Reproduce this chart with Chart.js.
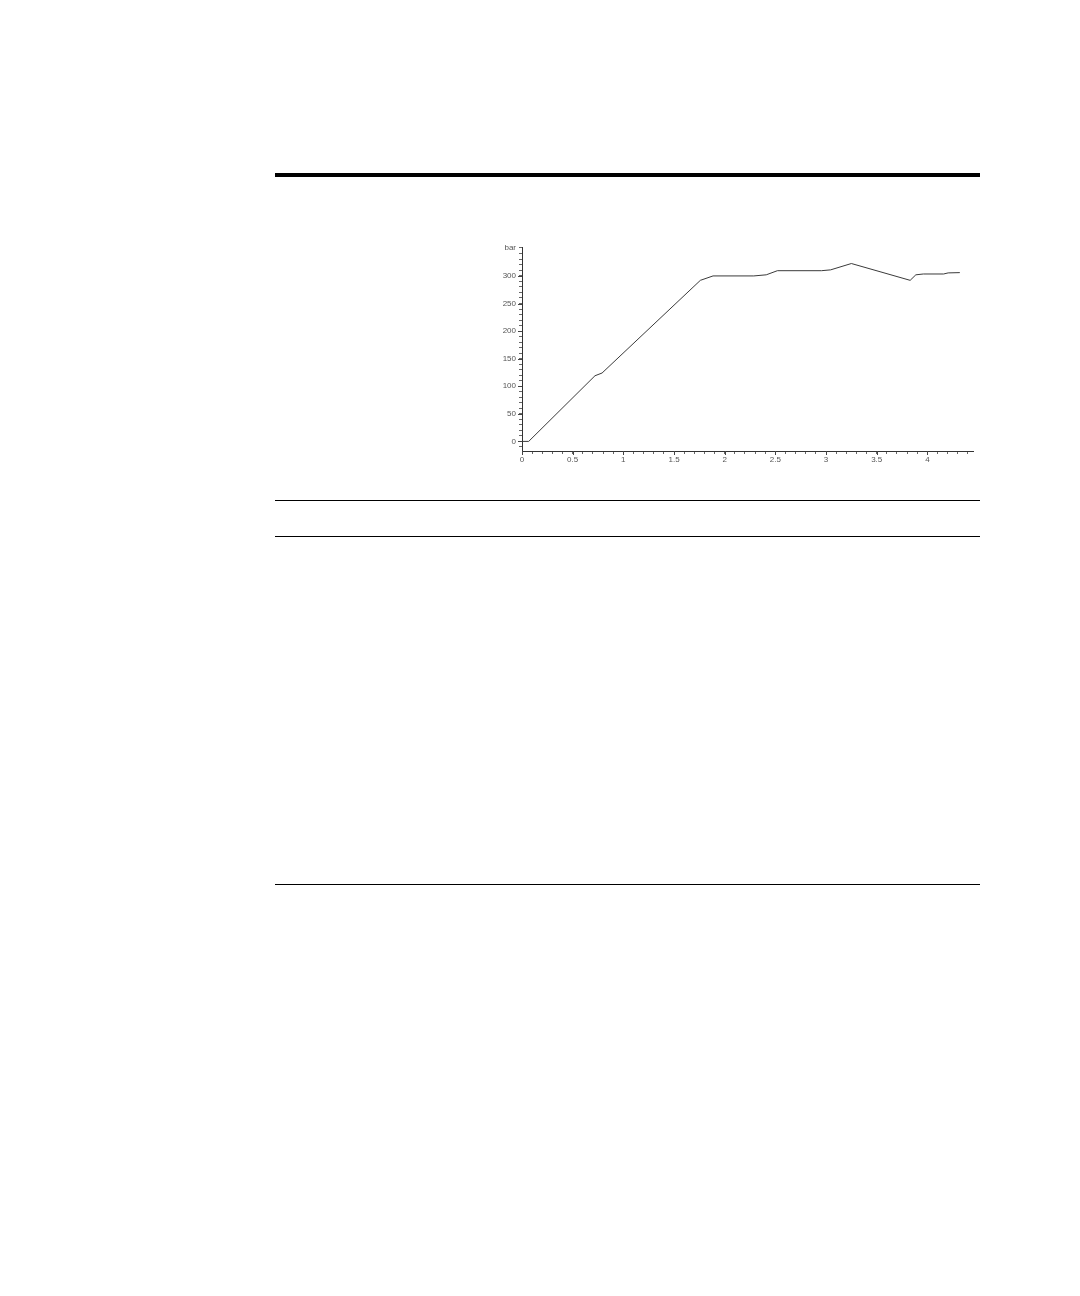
<!DOCTYPE html>
<html>
<head>
<meta charset="utf-8">
<script src="https://cdn.jsdelivr.net/npm/chart.js@4/dist/chart.umd.min.js"></script>
<style>
  html,body{margin:0;padding:0;background:#fff;}
  body{width:1080px;height:1296px;position:relative;overflow:hidden;}
  .rule{position:absolute;left:275px;width:705px;background:#000;}
  #box{position:absolute;left:470px;top:240px;width:510px;height:236px;}
</style>
</head>
<body>
<div class="rule" style="top:173px;height:4px;"></div>
<div class="rule" style="top:500px;height:1px;"></div>
<div class="rule" style="top:536px;height:1px;"></div>
<div class="rule" style="top:884px;height:1px;"></div>
<div id="box"><canvas id="c"></canvas></div>
<script>
// ====== veri ======
const timeX    = [0, 0.066, 0.72, 0.79, 1.76, 1.885, 2.287, 2.41, 2.52, 2.955, 3.045, 3.25, 3.83, 3.886, 3.96, 4.16, 4.205, 4.32];
const pressure = [0, 0, 119, 124, 292, 300, 300, 302, 309.5, 309.5, 311, 322.5, 292, 302, 303.5, 303.5, 305.5, 306];
const yLabels  = [0, 50, 100, 150, 200, 250, 300];
const xLabels  = [0, 0.5, 1, 1.5, 2, 2.5, 3, 3.5, 4];
const yUnit    = 'bar';

const Y_MIN = -17.4, Y_MAX = 351, X_MAX = 4.45;
const near = (a, list) => list.some(v => Math.abs(v - a) < 1e-6);

const points = timeX.map((x, i) => ({ x, y: pressure[i] }));

// major ticklerini biraz uzat
const majorTicks = {
  id: 'majorTicks',
  afterDraw(chart){
    const {ctx, scales:{x, y}} = chart;
    ctx.save();
    ctx.strokeStyle = '#444';
    ctx.lineWidth = 1;
    ctx.beginPath();
    yLabels.forEach(v => {
      const py = Math.round(y.getPixelForValue(v)) + 0.5;
      ctx.moveTo(x.left - 4, py); ctx.lineTo(x.left, py);
    });
    xLabels.forEach(v => {
      const px = Math.round(x.getPixelForValue(v)) + 0.5;
      ctx.moveTo(px, y.bottom); ctx.lineTo(px, y.bottom + 4);
    });
    ctx.stroke();
    ctx.restore();
  }
};

new Chart(document.getElementById('c'), {
  type: 'scatter',
  data: {
    datasets: [{
      data: points,
      showLine: true,
      borderColor: '#3a3a3a',
      borderWidth: 1,
      pointRadius: 0,
      tension: 0
    }]
  },
  options: {
    responsive: true,
    maintainAspectRatio: false,
    animation: false,
    layout: { padding: { top: 6, right: 7, left: 0, bottom: 0 } },
    plugins: { legend: { display: false }, tooltip: { enabled: false } },
    scales: {
      x: {
        type: 'linear', min: 0, max: X_MAX,
        afterBuildTicks: s => {
          const t = [];
          for (let i = 0; i <= 44; i++) t.push({ value: i / 10 });
          s.ticks = t;
        },
        afterFit: s => { s.height = 25; },
        border: { display: true, color: '#333', width: 1 },
        grid: { drawOnChartArea: false, drawTicks: true, tickLength: 3, color: '#666' },
        ticks: {
          autoSkip: false, maxRotation: 0, padding: 1,
          color: '#555', font: { family: 'Liberation Sans', size: 8 },
          callback: v => near(v, xLabels) ? String(Math.round(v * 10) / 10) : ''
        }
      },
      y: {
        type: 'linear', min: Y_MIN, max: Y_MAX,
        afterBuildTicks: s => {
          const t = [];
          for (let v = -10; v <= 340; v += 10) t.push({ value: v });
          t.push({ value: Y_MAX });
          s.ticks = t;
        },
        afterFit: s => { s.width = 52; },
        border: { display: true, color: '#333', width: 1 },
        grid: { drawOnChartArea: false, drawTicks: true, tickLength: 3, color: '#666' },
        ticks: {
          autoSkip: false, padding: 3,
          color: '#555', font: { family: 'Liberation Sans', size: 8 },
          callback: v => v === Y_MAX ? yUnit : (near(v, yLabels) ? String(v) : '')
        }
      }
    }
  },
  plugins: [majorTicks]
});
</script>
</body>
</html>
